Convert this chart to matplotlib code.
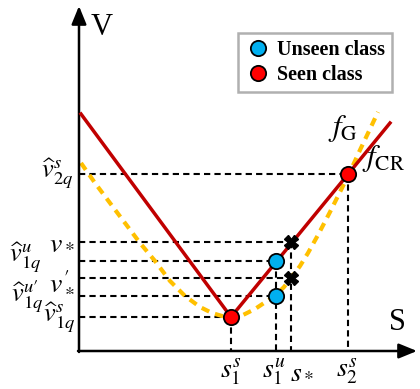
import matplotlib
matplotlib.use("Agg")
import matplotlib.pyplot as plt
from matplotlib.lines import Line2D

plt.rcParams['font.family'] = ['Liberation Serif', 'DejaVu Serif']
plt.rcParams['mathtext.fontset'] = 'stix'

# drawing units: picture space, S grows right, V grows up (y measured downward)
origin = (79, 351)
red_x = [81, 231, 390]
red_y = [114, 317, 123]
yel_x = [81, 95, 110, 125, 140, 155, 170, 185, 200, 212, 222, 232, 243, 255,
         267, 276, 284, 291, 300, 308, 318, 330, 340, 349, 360, 370, 378]
yel_y = [163, 183, 203, 223, 243, 261, 281, 296, 307, 313, 316, 317, 315, 309,
         301, 295, 287, 278, 266, 253, 235, 212, 192, 174, 150, 129, 112]

seen_s = [231, 348]
seen_v = [317, 174]
unseen_s = [276, 276]
unseen_v = [261, 296]
star_s = [291, 291]
star_v = [242, 278]

s_ticks = [231, 274, 290, 347]
s_labels = [r'$s_1^s$', r'$s_1^u$', r'$s_*$', r'$s_2^s$']
s_align = ['center', 'center', 'left', 'center']

fig = plt.figure(figsize=(4.2, 3.89), dpi=100)
ax = fig.add_axes([0, 0, 1, 1])
ax.set_xlim(0, 420)
ax.set_ylim(389, 0)
ax.axis('off')

# guide lines
dash = dict(color='black', lw=1.5, linestyle=(0, (3, 2)), zorder=1)
pts_s = seen_s + unseen_s + star_s
pts_v = seen_v + unseen_v + star_v
for s, v in zip(pts_s, pts_v):
    ax.plot([origin[0], s], [v, v], **dash)
for s in sorted(set(pts_s)):
    top = min(v for ss, v in zip(pts_s, pts_v) if ss == s)
    ax.plot([s, s], [top, origin[1]], **dash)

# axes with arrows
ax.annotate('', xy=(origin[0], 6), xytext=(origin[0], origin[1] + 1),
            arrowprops=dict(arrowstyle='-|>,head_length=1.1,head_width=0.45',
                            color='black', lw=1.8, shrinkA=0, shrinkB=0))
ax.annotate('', xy=(417, origin[1]), xytext=(origin[0] - 1, origin[1]),
            arrowprops=dict(arrowstyle='-|>,head_length=1.1,head_width=0.45',
                            color='black', lw=1.8, shrinkA=0, shrinkB=0))

ax.plot(yel_x, yel_y, color='#ffc000', lw=3, linestyle=(0, (2, 1.5)), zorder=2)
ax.plot(red_x, red_y, color='#c00000', lw=2.5, zorder=3)

ax.plot(star_s, star_v, 'X', color='black', markersize=10, zorder=4)
ax.plot(unseen_s, unseen_v, 'o', color='#00b0f0', mec='black', mew=1.3,
        markersize=11, zorder=5)
ax.plot(seen_s, seen_v, 'o', color='#ff0000', mec='black', mew=1.3,
        markersize=11, zorder=5)

# axis names
ax.text(102, 27, 'V', fontsize=22, ha='center', va='center')
ax.text(397, 322, 'S', fontsize=22, ha='center', va='center')

for s, lab, al in zip(s_ticks, s_labels, s_align):
    ax.text(s, 372, lab, fontsize=20, ha=al, va='center')

# value labels
ax.text(73, 174, r'$\widehat{v}^{s}_{2q}$', fontsize=19, ha='right', va='center')
ax.text(75, 242, r'$v_*$', fontsize=20, ha='right', va='center')
ax.text(41, 258, r'$\widehat{v}^{u}_{1q}$', fontsize=19, ha='right', va='center')
ax.text(75, 282, r"$v^{\prime}_*$", fontsize=20, ha='right', va='center')
ax.text(43, 297, r"$\widehat{v}^{u\prime}_{1q}$", fontsize=19, ha='right', va='center')
ax.text(75, 318, r'$\widehat{v}^{s}_{1q}$', fontsize=19, ha='right', va='center')

ax.text(328, 128, r'$f_{\mathrm{G}}$', fontsize=22, ha='left', va='center')
ax.text(362, 158, r'$f_{\mathrm{CR}}$', fontsize=22, ha='left', va='center')

handles = [
    Line2D([], [], marker='o', linestyle='', color='#00b0f0', mec='black',
           mew=1.3, markersize=11, label='Unseen class'),
    Line2D([], [], marker='o', linestyle='', color='#ff0000', mec='black',
           mew=1.3, markersize=11, label='Seen class'),
]
leg = ax.legend(handles=handles, loc='upper left',
                bbox_to_anchor=(238 / 420, 1 - 33 / 389), borderaxespad=0,
                prop=dict(family='Liberation Serif', weight='bold', size=14.5),
                fancybox=False, framealpha=1, edgecolor='#b0b0b0',
                handletextpad=0.3, handlelength=1.3, borderpad=0.35,
                labelspacing=0.25)
leg.get_frame().set_linewidth(1.8)

fig.savefig('out.png', dpi=100)
